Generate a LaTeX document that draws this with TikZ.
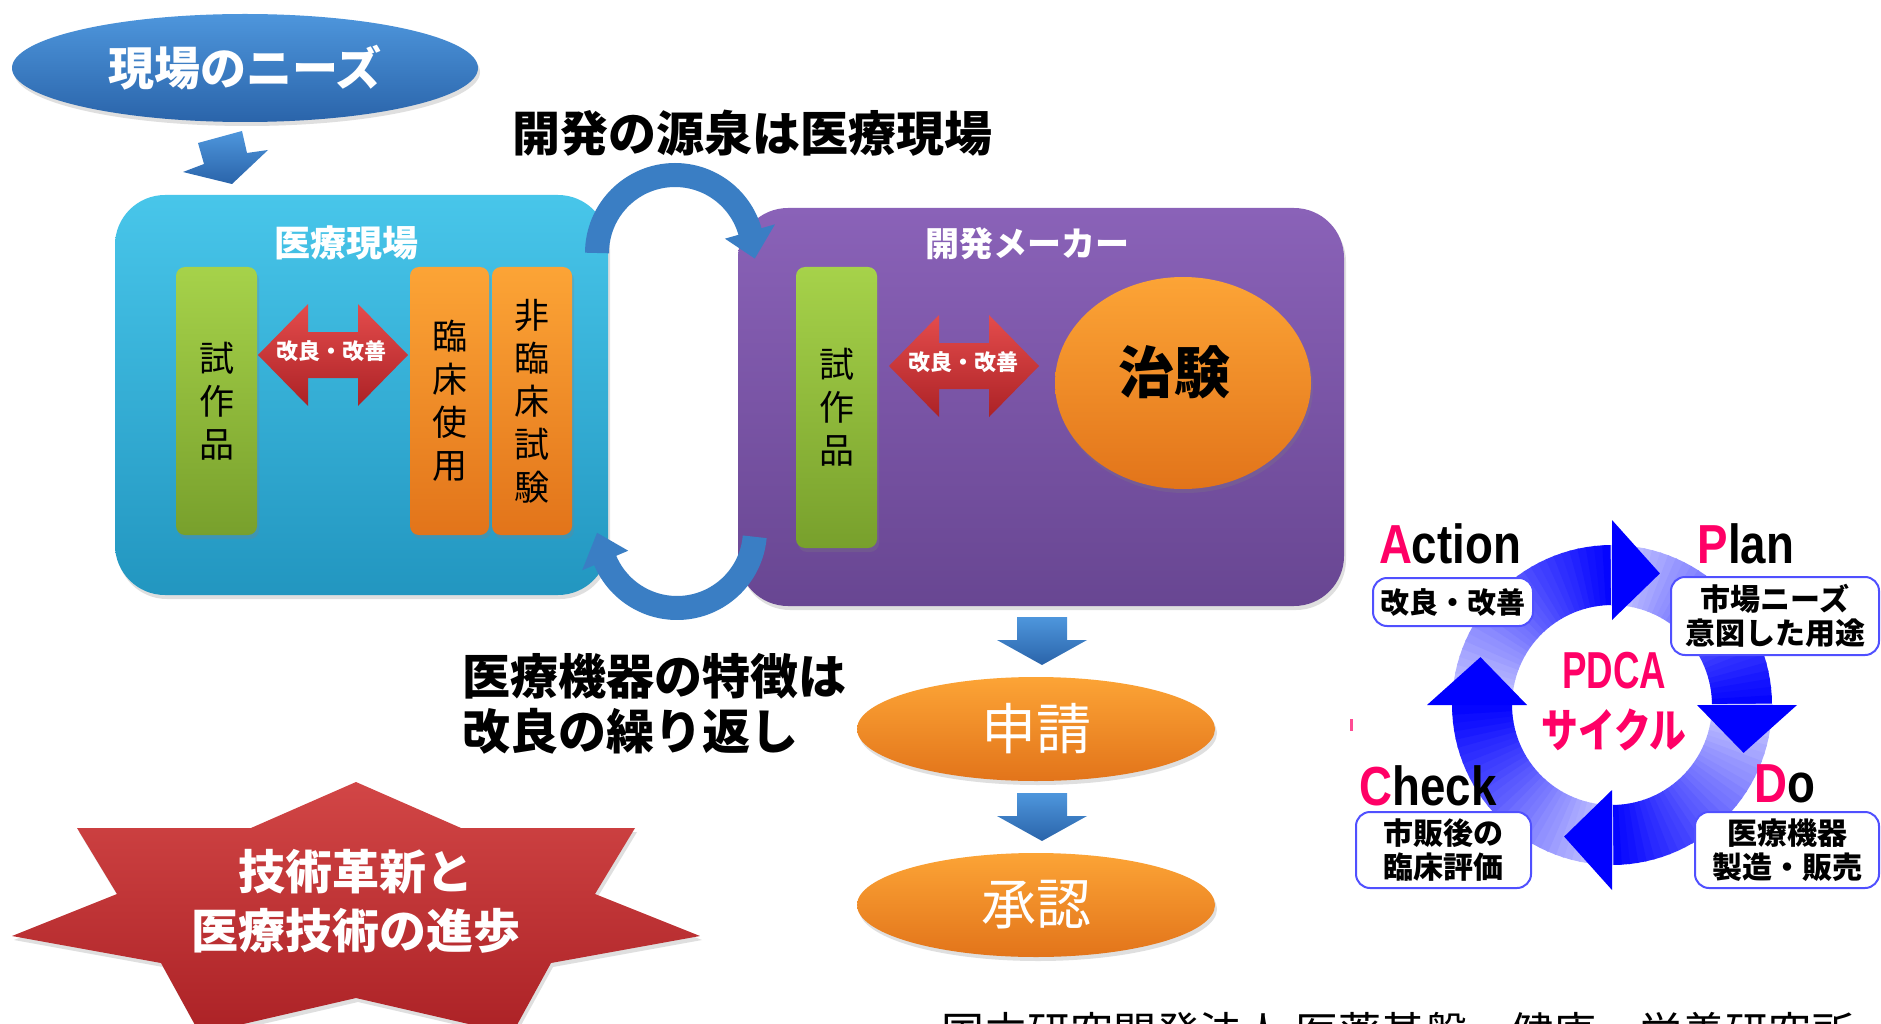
\documentclass[tikz,border=0pt]{standalone}
\usepackage{fontspec}
\setmainfont{Liberation Sans}
\newfontfamily\jp{Noto Sans CJK JP}
\newfontfamily\lat[FakeStretch=0.83]{Liberation Sans}
\usetikzlibrary{shapes.geometric,shadows}
\newcommand\fs[1]{\fontsize{#1}{#1}\selectfont}
\newcommand\fsl[2]{\fontsize{#1}{#2}\selectfont}
\definecolor{skyT}{RGB}{72,198,234}
\definecolor{skyB}{RGB}{34,150,192}
\definecolor{purT}{RGB}{138,98,184}
\definecolor{purB}{RGB}{104,70,146}
\definecolor{grnT}{RGB}{166,210,74}
\definecolor{grnB}{RGB}{120,160,44}
\definecolor{orgT}{RGB}{252,164,54}
\definecolor{orgB}{RGB}{226,116,26}
\definecolor{redT}{RGB}{228,76,76}
\definecolor{redB}{RGB}{172,34,38}
\definecolor{bluT}{RGB}{78,150,220}
\definecolor{bluB}{RGB}{42,100,170}
\definecolor{arcB}{RGB}{58,126,196}
\definecolor{pinkc}{RGB}{255,0,102}
\definecolor{ringB}{RGB}{0,0,255}
\definecolor{boxB}{RGB}{80,80,255}
\tikzset{
  shd/.style={drop shadow={shadow xshift=2pt,shadow yshift=-4pt,opacity=0.25}},
  bigbox/.style={rectangle,rounded corners=50pt,shd},
  barbox/.style={rectangle,rounded corners=9pt,top color=#1T,bottom color=#1B,align=center,font=\jp\fsl{35}{43},shd},
  ovalbox/.style={ellipse,top color=orgT,bottom color=orgB,shd},
  pdbox/.style={rectangle,draw=boxB,line width=2pt,rounded corners=14pt,fill=white,align=center,font=\jp\bfseries\fsl{30}{34}},
  pdlbl/.style={font=\lat\bfseries\fs{55},anchor=base},
  redtxt/.style={font=\jp\bfseries\fs{22},text=white},
}
\newcommand\dblarr[2]{%
  \shade[top color=redT,bottom color=redB] ({#1-75},{#2}) -- ({#1-25},{#2-51}) -- ({#1-25},{#2-23}) -- ({#1+25},{#2-23}) -- ({#1+25},{#2-51}) -- ({#1+75},{#2}) -- ({#1+25},{#2+51}) -- ({#1+25},{#2+23}) -- ({#1-25},{#2+23}) -- ({#1-25},{#2+51}) -- cycle;}
\newcommand\downarr[2]{%
  \shade[top color=bluT,bottom color=bluB] ({#1-25},{#2}) -- ({#1+25},{#2}) -- ({#1+25},{#2+23}) -- ({#1+45},{#2+23}) -- ({#1},{#2+48}) -- ({#1-45},{#2+23}) -- ({#1-25},{#2+23}) -- cycle;}
\begin{document}
\begin{tikzpicture}[x=1pt,y=-1pt,every node/.style={inner sep=0pt,outer sep=0pt}]
\useasboundingbox (0,0) rectangle (1881,1024);
\clip (0,0) rectangle (1881,1024);
\fill[white] (0,0) rectangle (1881,1024);

% needs
\node[ellipse,minimum width=466pt,minimum height=108pt,top color=bluT,bottom color=bluB,shd,font=\jp\bfseries\fs{46},text=white] (needs) at (245,68) {現場のニーズ};
\shade[top color=bluT,bottom color=bluB] (198,143) -- (242,131) -- (247,153) -- (268,150) -- (232,184) -- (183,172) -- (204,164) -- cycle;

% title
\node[font=\jp\bfseries\fs{48}] (title) at (752,133) {開発の源泉は医療現場};

% medical site box
\node[bigbox,minimum width=493pt,minimum height=400pt,top color=skyT,bottom color=skyB] (med) at (361.5,395) {};
\node[font=\jp\bfseries\fs{36},text=white] (medlbl) at (346,243) {医療現場};
\node[barbox=grn,minimum width=81pt,minimum height=268pt] (proto1) at (216.5,401) {試\\作\\品};
\node[barbox=org,minimum width=79pt,minimum height=268pt] (clin) at (449.5,401) {臨\\床\\使\\用};
\node[barbox=org,minimum width=80pt,minimum height=268pt] (nonclin) at (532,401) {非\\臨\\床\\試\\験};
\dblarr{333}{355}
\node[redtxt] (imp1) at (331,351) {改良・改善};

% developer box
\node[bigbox,minimum width=606pt,minimum height=398pt,top color=purT,bottom color=purB] (dev) at (1041,407) {};
\node[font=\jp\bfseries\fs{34},text=white] (devlbl) at (1027,244) {開発メーカー};
\node[barbox=grn,minimum width=81pt,minimum height=281pt] (proto2) at (836.5,407.5) {試\\作\\品};
\dblarr{964}{366}
\node[redtxt] (imp2) at (963,362) {改良・改善};
\node[ovalbox,minimum width=256pt,minimum height=212pt] (trial) at (1183,383) {};
\node[font=\jp\bfseries\fs{56}] (triallbl) at (1174,372) {治験};

% loop arrows
\draw[arcB,line width=24pt] plot[domain=180:14,samples=60] ({675+78*cos(\x)},{253-78*sin(\x)});
\fill[arcB] ({675+52*cos(16)},{253-52*sin(16)}) -- ({675+104*cos(16)},{253-104*sin(16)}) -- ({675+80*cos(-4)},{253-80*sin(-4)}) -- cycle;
\draw[arcB,line width=24pt] plot[domain=-5:-159,samples=60] ({677+78*cos(\x)},{530-78*sin(\x)});
\fill[arcB] ({677+53*cos(-157)},{530-53*sin(-157)}) -- ({677+103*cos(-157)},{530-103*sin(-157)}) -- ({677+80*cos(-178)},{530-80*sin(-178)}) -- cycle;

% feature text
\node[font=\jp\bfseries\fsl{48}{55},align=left,anchor=west] (feat) at (462,704) {医療機器の特徴は\\改良の繰り返し};

% approval flow
\downarr{1042}{617}
\node[ovalbox,minimum width=358pt,minimum height=104pt,text=white,font=\jp\fs{55}] (apply) at (1036,729) {申請};
\downarr{1042}{793}
\node[ovalbox,minimum width=358pt,minimum height=104pt,text=white,font=\jp\fs{55}] (approve) at (1036,905) {承認};

% star
\shade[top color=redT!92!black,bottom color=redB,shd] (356,782) -- (461,828) -- (635,828) -- (595,894) -- (700,936) -- (551,963) -- (512,1034) -- (356,998) -- (200,1034) -- (161,963) -- (12,936) -- (117,894) -- (77,828) -- (251,828) -- cycle;
\node[font=\jp\bfseries\fsl{47}{59},text=white,align=center] (innov) at (356,901) {技術革新と\\医療技術の進歩};

% PDCA ring
\foreach \s in {180,90,0,-90}{
  \foreach \i in {0,...,29}{
    \pgfmathsetmacro\angA{\s-3*\i+0.5}
    \pgfmathsetmacro\angB{\s-3*\i-3}
    \pgfmathtruncatemacro\tt{18+82*(\i+0.5)/30}
    \fill[ringB!\tt!white] ({1612+160*cos(\angA)},{705-160*sin(\angA)}) -- ({1612+160*cos(\angB)},{705-160*sin(\angB)}) -- ({1612+100*cos(\angB)},{705-100*sin(\angB)}) -- ({1612+100*cos(\angA)},{705-100*sin(\angA)}) -- cycle;
  }
}
\foreach \s in {90,0,-90,180}{
  \fill[ringB] ({1612+85*cos(\s)},{705-85*sin(\s)}) -- ({1612+185*cos(\s)},{705-185*sin(\s)}) -- ({1612+140*cos(\s-20)},{705-140*sin(\s-20)}) -- cycle;
}
\node[font=\lat\bfseries\fs{52},text=pinkc] (pdca) at (1614,671) {\scalebox{0.85}[1]{PDCA}};
\node[font=\jp\bfseries\fs{46},text=pinkc] (cyc) at (1614,730) {\scalebox{0.8}[1]{サイクル}};

\node[pdlbl] (act) at (1450,563) {\textcolor{pinkc}{A}ction};
\node[pdlbl] (plan) at (1746,563) {\textcolor{pinkc}{P}lan};
\node[pdlbl] (chk) at (1428,805) {\textcolor{pinkc}{C}heck};
\node[pdlbl] (do) at (1785,802) {\textcolor{pinkc}{D}o};
\node[pdbox,minimum width=160pt,minimum height=48pt,font=\jp\bfseries\fs{29}] (actbox) at (1453,602) {改良・改善};
\node[pdbox,minimum width=208pt,minimum height=78pt] (planbox) at (1775,616) {市場ニーズ\\意図した用途};
\node[pdbox,minimum width=175pt,minimum height=76pt] (chkbox) at (1443.5,850) {市販後の\\臨床評価};
\node[pdbox,minimum width=184pt,minimum height=76pt] (dobox) at (1787,850) {医療機器\\製造・販売};
\fill[pinkc!70] (1350,719) rectangle (1353,731);

% source
\node[font=\jp\fs{43},anchor=base] (inst) at (1398,1048) {国立研究開発法人 医薬基盤・健康・栄養研究所};
\end{tikzpicture}
\end{document}
